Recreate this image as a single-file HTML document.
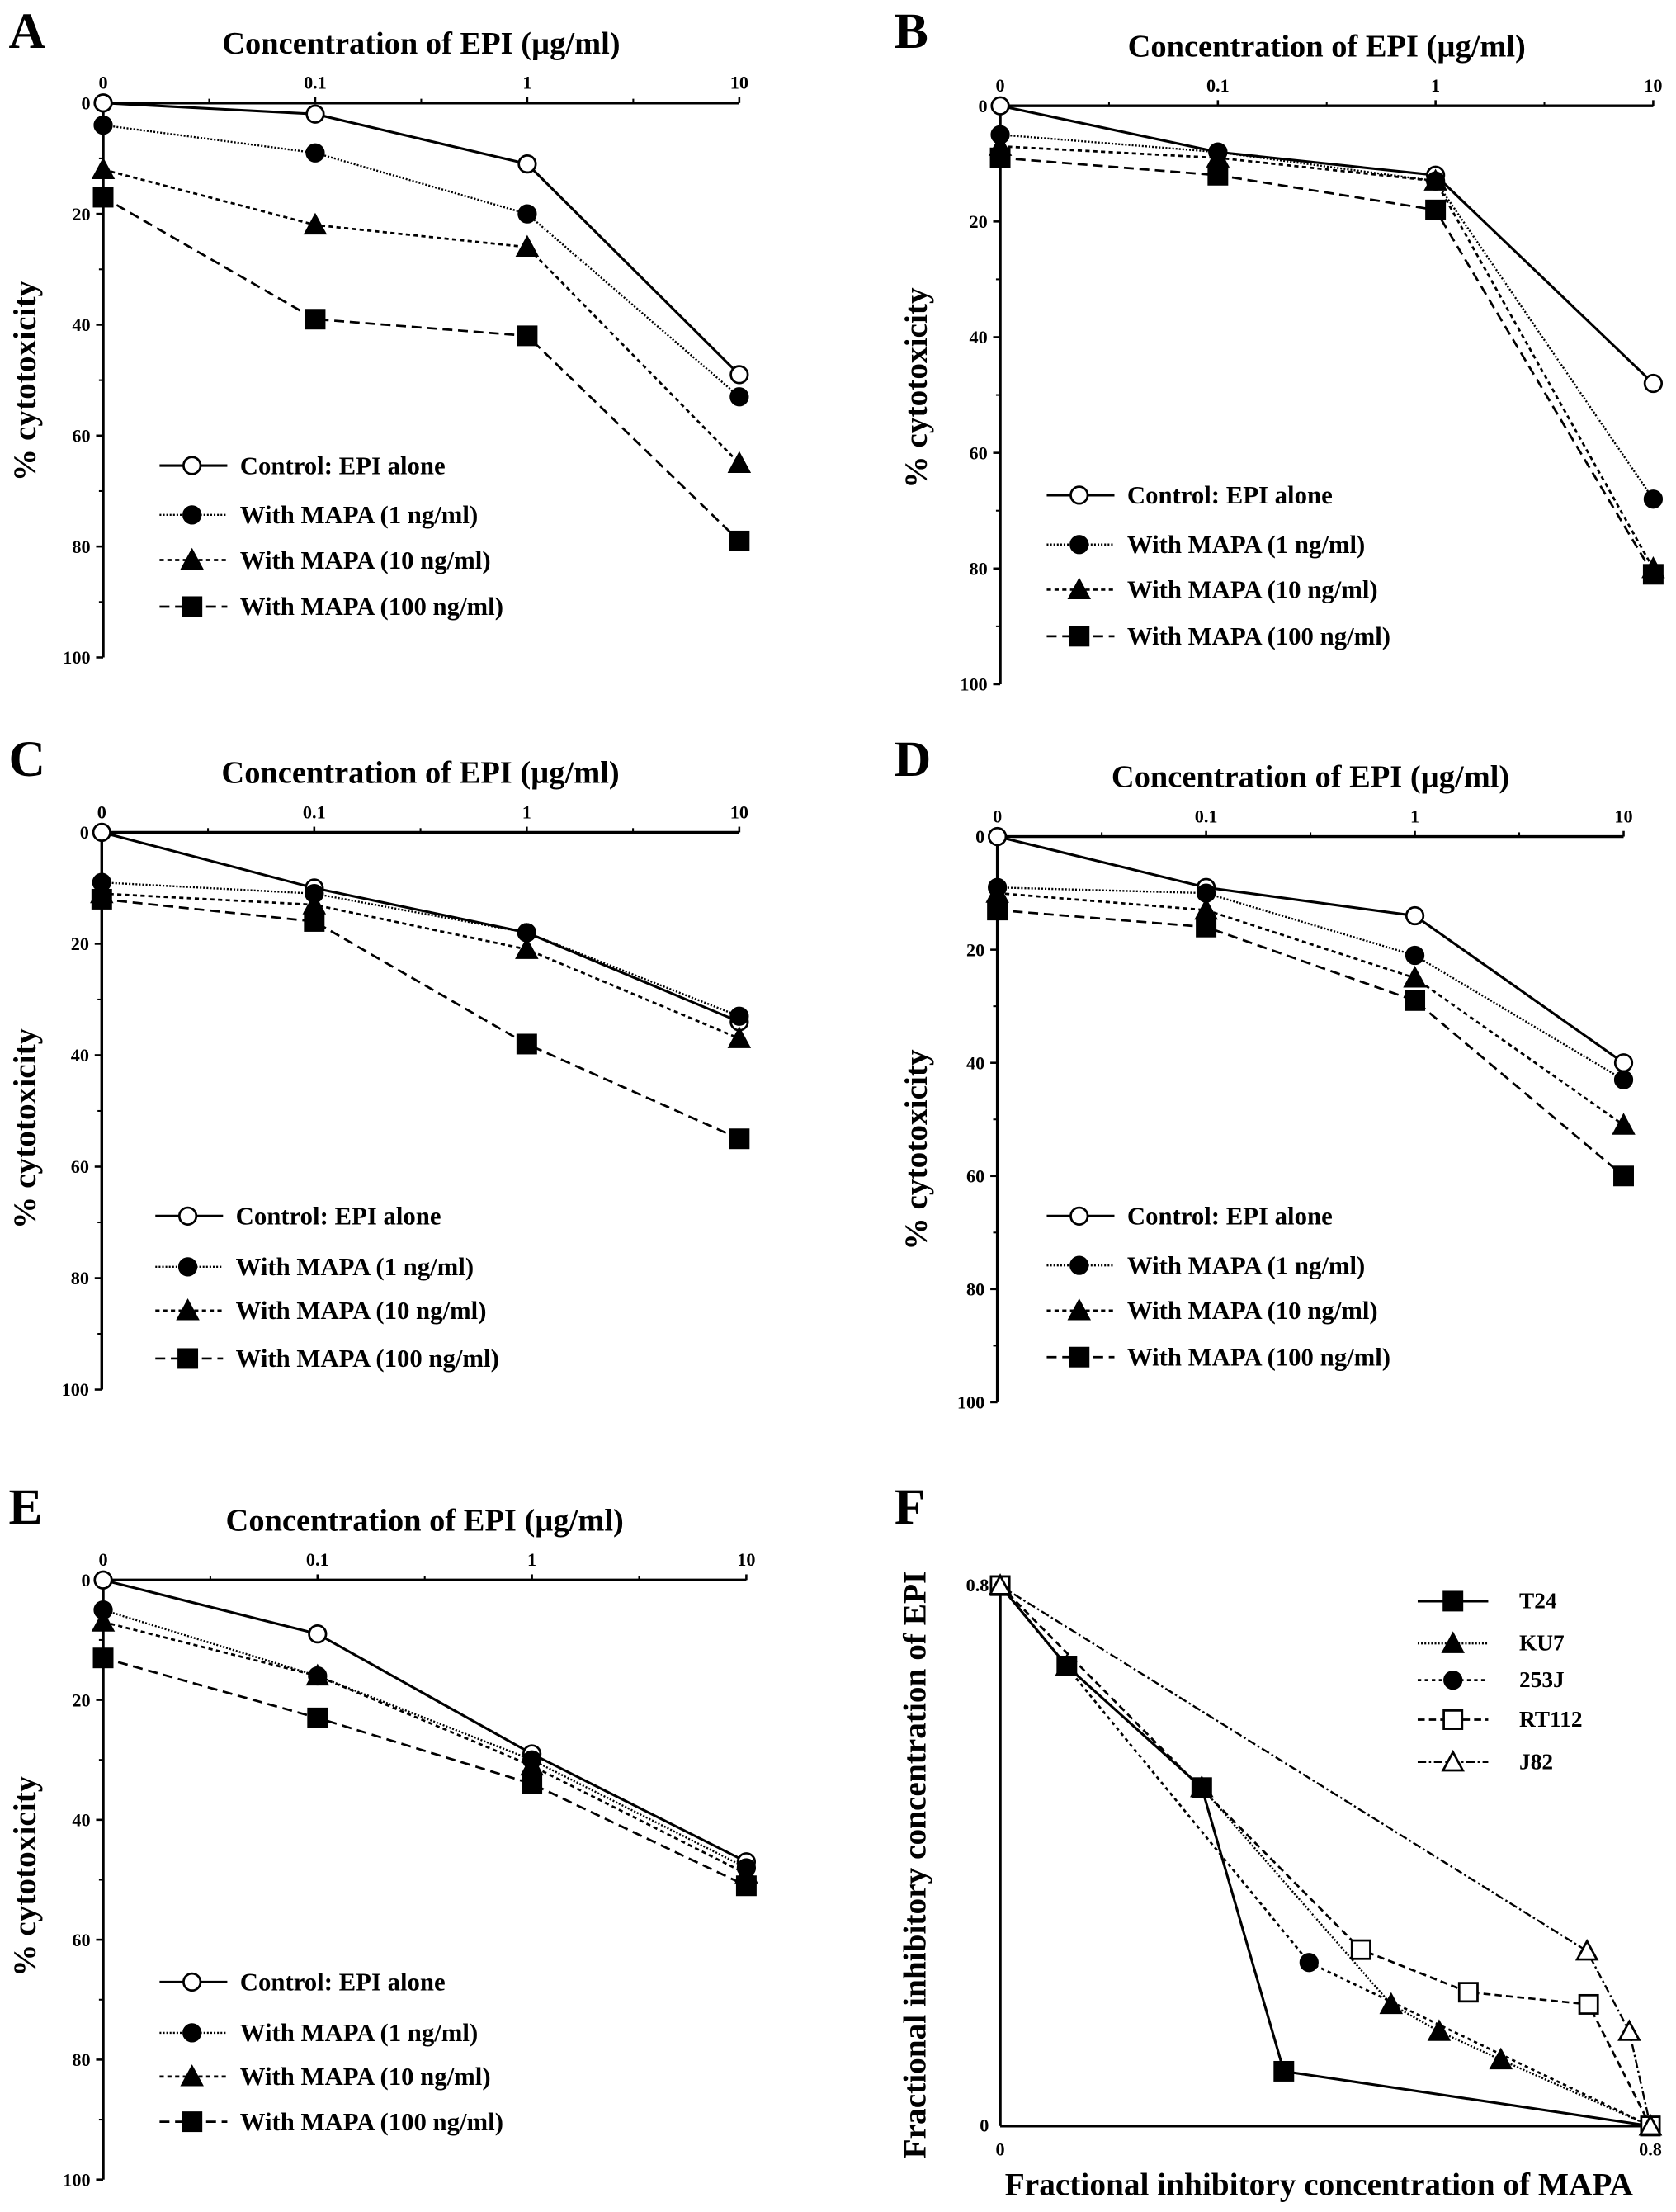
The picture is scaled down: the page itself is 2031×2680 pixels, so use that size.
<!DOCTYPE html>
<html><head><meta charset="utf-8"><style>
html,body{margin:0;padding:0;background:#fff}
svg{display:block}
text{font-family:"Liberation Serif",serif;font-weight:bold;fill:#000}
</style></head><body>
<svg id="fig" width="2031" height="2680" viewBox="0 0 1188 1568" xmlns="http://www.w3.org/2000/svg"></svg>
<script>
const concCategories = ["0","0.1","1","10"];
const yTickLabels = [0,20,40,60,80,100];
const seriesNames = ["Control: EPI alone","With MAPA (1 ng/ml)","With MAPA (10 ng/ml)","With MAPA (100 ng/ml)"];
const A_control=[0,2,11,49], A_1ng=[4,9,20,53], A_10ng=[12,22,26,65], A_100ng=[17,39,42,79];
const B_control=[0,8,12,48], B_1ng=[5,8,13,68], B_10ng=[7,9,13,80], B_100ng=[9,12,18,81];
const C_control=[0,10,18,34], C_1ng=[9,11,18,33], C_10ng=[11,13,21,37], C_100ng=[12,16,38,55];
const D_control=[0,9,14,40], D_1ng=[9,10,21,43], D_10ng=[10,13,25,51], D_100ng=[13,16,29,60];
const E_control=[0,9,29,47], E_1ng=[5,16,30,48], E_10ng=[7,16,31,49], E_100ng=[13,23,34,51];
const F_names=["T24","KU7","253J","RT112","J82"];
const T24_x=[0,0.082,0.248,0.349,0.8], T24_y=[0.8,0.681,0.501,0.081,0];
const KU7_x=[0,0.082,0.248,0.481,0.540,0.616,0.8], KU7_y=[0.8,0.681,0.501,0.180,0.140,0.098,0];
const J253_x=[0,0.38,0.8], J253_y=[0.8,0.242,0];
const RT112_x=[0,0.444,0.576,0.724,0.8], RT112_y=[0.8,0.261,0.198,0.180,0];
const J82_x=[0,0.722,0.774,0.8], J82_y=[0.8,0.259,0.140,0];

const NS="http://www.w3.org/2000/svg";
const svg=document.getElementById('fig');
function mk(tag,attrs,parent){const e=document.createElementNS(NS,tag);for(const k in attrs)e.setAttribute(k,attrs[k]);(parent||svg).appendChild(e);return e;}
function txt(s,x,y,size,anchor,parent,rot){const t=mk('text',{x:x,y:y,'font-size':size,'text-anchor':anchor||'start'},parent);if(rot)t.setAttribute('transform','rotate(-90 '+x+' '+y+')');t.textContent=s;return t;}
const styles=[{dash:'none',w:1.8},{dash:'1.2 1.2',w:1.4},{dash:'3 2.5',w:1.6},{dash:'7 4',w:1.6}];
function marker(kind,x,y,g){
  if(kind==='circle'||kind==='ocircle')return mk('circle',{cx:x,cy:y,r:6,fill:kind==='ocircle'?'#fff':'#000',stroke:'#000','stroke-width':1.6},g);
  if(kind==='tri'||kind==='otri')return mk('polygon',{points:`${x},${y-7} ${x-7},${y+6} ${x+7},${y+6}`,fill:kind==='otri'?'#fff':'#000',stroke:'#000','stroke-width':1.6},g);
  if(kind==='sq'||kind==='osq')return mk('rect',{x:x-6.5,y:y-6.5,width:13,height:13,fill:kind==='osq'?'#fff':'#000',stroke:'#000','stroke-width':1.6},g);
}
const markers=['ocircle','circle','tri','sq'];
function panel(p){
  const g=mk('g',{});
  
  
  const xs=i=>p.x0+(p.x1-p.x0)*i/3;
  const ys=v=>p.y0+(p.y1-p.y0)*v/100;
  txt(p.letter,p.lx,p.ly,36,'start',g);
  const tt=txt('Concentration of EPI (µg/ml)',(p.x0+p.x1)/2,p.y0-35,22.5,'middle',g);
  mk('line',{x1:p.x0,y1:p.y0,x2:p.x1,y2:p.y0,stroke:'#000','stroke-width':2},g);
  mk('line',{x1:p.x0,y1:p.y0,x2:p.x0,y2:p.y1,stroke:'#000','stroke-width':2},g);
  concCategories.forEach((c,i)=>{mk('line',{x1:xs(i),y1:p.y0,x2:xs(i),y2:p.y0-4,stroke:'#000','stroke-width':1.5},g);
    const t=txt(c,xs(i),p.y0-10,13,'middle',g);
    if(i<3)mk('line',{x1:xs(i+0.5),y1:p.y0,x2:xs(i+0.5),y2:p.y0-3,stroke:'#000','stroke-width':1.2},g);});
  yTickLabels.forEach((v)=>{mk('line',{x1:p.x0,y1:ys(v),x2:p.x0-5,y2:ys(v),stroke:'#000','stroke-width':1.5},g);
    const t=txt(String(v),p.x0-9,ys(v)+4.5,13,'end',g);
    if(v<100)mk('line',{x1:p.x0,y1:ys(v+10),x2:p.x0-3,y2:ys(v+10),stroke:'#000','stroke-width':1.2},g);});
  const yl=txt('% cytotoxicity',p.ylx,p.yly,23,'middle',g,true);
  p.series.forEach((s,k)=>{
    const pts=s.map((v,i)=>xs(i)+','+ys(v)).join(' ');
    const l=mk('polyline',{points:pts,fill:'none',stroke:'#000','stroke-width':styles[k].w,'stroke-dasharray':styles[k].dash},g);
    
    s.forEach((v,i)=>{const m=marker(markers[k],xs(i),ys(v),g);});
  });
  seriesNames.forEach((n,k)=>{
    const y=p.leg[k];
    const lg=mk('g',{},g);
    
    
    mk('line',{x1:p.legx,y1:y,x2:p.legx+48,y2:y,stroke:'#000','stroke-width':styles[k].w,'stroke-dasharray':styles[k].dash},lg);
    marker(markers[k],p.legx+23,y,lg);
    txt(n,p.legx+57,y+6,18,'start',lg);
  });
}
panel({letter:'A',lx:6,ly:34,x0:73,x1:524,y0:73,y1:466,legx:113,leg:[330,365,397,430],ylx:25,yly:270,series:[A_control,A_1ng,A_10ng,A_100ng]});
panel({letter:'B',lx:634,ly:34,x0:709,x1:1172,y0:75,y1:485,legx:742,leg:[351,386,418,451],ylx:657,yly:275,series:[B_control,B_1ng,B_10ng,B_100ng]});
panel({letter:'C',lx:6,ly:550,x0:72,x1:524,y0:590,y1:985,legx:110,leg:[862,898,929,963],ylx:25,yly:800,series:[C_control,C_1ng,C_10ng,C_100ng]});
panel({letter:'D',lx:634,ly:550,x0:707,x1:1151,y0:593,y1:994,legx:742,leg:[862,897,929,962],ylx:657,yly:815,series:[D_control,D_1ng,D_10ng,D_100ng]});
panel({letter:'E',lx:6,ly:1080,x0:73,x1:529,y0:1120,y1:1545,legx:113,leg:[1405,1441,1472,1504],ylx:25,yly:1330,series:[E_control,E_1ng,E_10ng,E_100ng]});

(function(){
  const g=mk('g',{});
  
  
  const X0=709,X1=1170,Y0=1507,Y1=1124;
  const fx=v=>X0+(X1-X0)*v/0.8, fy=v=>Y0-(Y0-Y1)*v/0.8;
  txt('F',634,1080,36,'start',g);
  mk('line',{x1:X0,y1:Y0,x2:X1,y2:Y0,stroke:'#000','stroke-width':2},g);
  mk('line',{x1:X0,y1:Y0,x2:X0,y2:Y1,stroke:'#000','stroke-width':2},g);
  txt('0',X0,Y0+21,13,'middle',g);
  txt('0.8',X1,Y0+21,13,'middle',g);
  txt('0',X0-8,Y0+4,13,'end',g);
  txt('0.8',X0-8,Y1+4,13,'end',g);
  txt('Fractional inhibitory concentration of MAPA',935,1556,23,'middle',g);
  txt('Fractional inhibitory concentration of EPI',656,1322,23,'middle',g,true);
  const fs=[{x:T24_x,y:T24_y,m:'sq',d:'none',w:1.8},{x:KU7_x,y:KU7_y,m:'tri',d:'1.2 1.2',w:1.4},{x:J253_x,y:J253_y,m:'circle',d:'2.5 2.5',w:1.6},{x:RT112_x,y:RT112_y,m:'osq',d:'5 3',w:1.6},{x:J82_x,y:J82_y,m:'otri',d:'6 2 1.5 2',w:1.4}];
  fs.forEach((s,k)=>{
    const l=mk('polyline',{points:s.x.map((v,i)=>fx(v)+','+fy(s.y[i])).join(' '),fill:'none',stroke:'#000','stroke-width':s.w,'stroke-dasharray':s.d},g);
    
    s.x.forEach((v,i)=>{const m=marker(s.m,fx(v),fy(s.y[i]),g);});
  });
  const legY=[1135,1165,1191,1219,1249];
  fs.forEach((s,k)=>{
    const lg=mk('g',{},g);
    
    
    mk('line',{x1:1005,y1:legY[k],x2:1055,y2:legY[k],stroke:'#000','stroke-width':s.w,'stroke-dasharray':s.d},lg);
    marker(s.m,1030,legY[k],lg);
    txt(F_names[k],1077,legY[k]+5,16,'start',lg);
  });
})();
</script>
</body></html>
